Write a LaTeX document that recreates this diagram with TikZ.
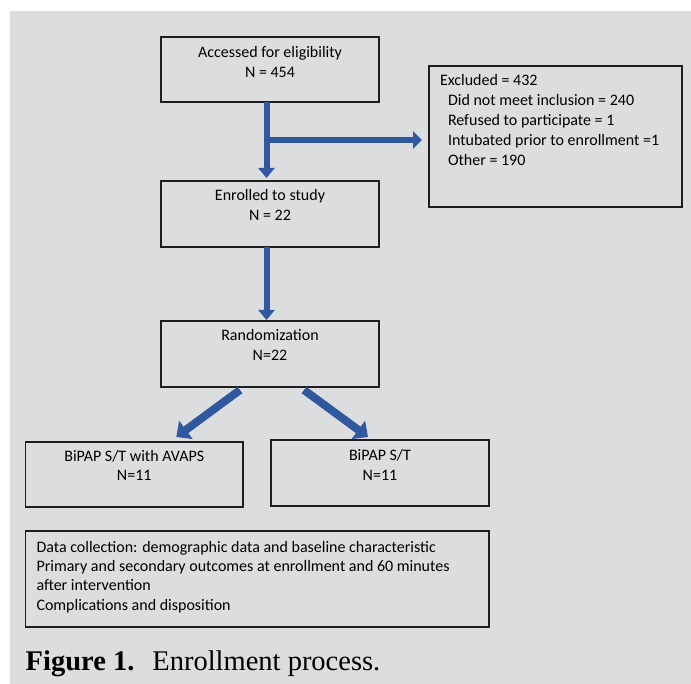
\documentclass[tikz,border=0pt]{standalone}
\usepackage{fontspec}
\setmainfont{Carlito}
\newfontfamily\capfont{Liberation Serif}
\usetikzlibrary{arrows.meta}
\definecolor{bg}{RGB}{220,221,223}
\definecolor{arrowblue}{RGB}{47,88,158}
\definecolor{boxline}{RGB}{30,30,30}
\newcommand{\ctext}[4]{\parbox[c][#2][t]{#1}{\centering\rule{0pt}{#3}#4\par}}
\newcommand{\ltext}[5]{\parbox[c][#2][t]{#1}{\raggedright\leftskip=#4\rule{0pt}{#3}#5\par}}
\tikzset{
  box/.style={draw=boxline, line width=1.5pt, inner sep=0pt, outer sep=0pt,
    font=\fontsize{16}{20}\selectfont},
  barrow/.style={draw=arrowblue, line width=6pt,
    -{Triangle[width=16pt,length=10pt]}},
  darrow/.style={draw=arrowblue, line width=8pt,
    -{Triangle[width=22pt,length=12pt]}},
}
\begin{document}
\begin{tikzpicture}[x=1pt,y=-1pt]
\useasboundingbox (0,0) rectangle (691,684);
\fill[bg] (10,11) rectangle (691,684);

\node[box] (acc) at (270,69.5) {\ctext{218pt}{65pt}{20.5pt}{Accessed for eligibility\\N = 454}};
\node[box] (exc) at (555.5,136.5) {\ltext{253pt}{141pt}{20pt}{11pt}{Excluded = 432\\
\hspace*{8pt}Did not meet inclusion = 240\\
\hspace*{8pt}Refused to participate = 1\\
\hspace*{8pt}Intubated prior to enrollment =1\\
\hspace*{8pt}Other = 190}};
\node[box] (enr) at (270,214) {\ctext{218pt}{66pt}{20pt}{Enrolled to study\\N = 22}};
\node[box] (rand) at (270,354) {\ctext{218pt}{66pt}{20pt}{Randomization\\N=22}};
\node[box] (avaps) at (134.25,474.5) {\ctext{217.5pt}{65pt}{19pt}{BiPAP S/T with AVAPS\\N=11}};
\node[box] (st) at (380,473) {\ctext{218pt}{66pt}{20pt}{BiPAP S/T\\N=11}};
\node[box] (data) at (257.25,579) {\fontsize{16}{19.4}\selectfont\ltext{463.5pt}{96pt}{21pt}{11pt}{Data collection: demographic data and baseline characteristic\\
Primary and secondary outcomes at enrollment and 60 minutes\\
after intervention\\
Complications and disposition}};

\node[anchor=base west, inner sep=0pt] (cap) at (25.5,670) {\capfont\fontsize{28.5}{30}\selectfont\textbf{Figure 1.}\hspace{18pt}Enrollment process.};

\draw[barrow] ([xshift=-3.5pt]acc.south) -- ([xshift=-3.5pt,yshift=3pt]enr.north);
\draw[barrow, line width=5.5pt, -{Triangle[width=17pt,length=9pt]}] ([yshift=-3.5pt]acc.south |- exc.west) -- ([xshift=-7pt,yshift=-3.5pt]exc.west);
\draw[barrow] ([xshift=-3.5pt]enr.south) -- ([xshift=-3.5pt,yshift=1pt]rand.north);
\draw[darrow] ([xshift=-30pt,yshift=-3pt]rand.south) -- ([xshift=42pt,yshift=5pt]avaps.north);
\draw[darrow] ([xshift=34pt,yshift=-3pt]rand.south) -- ([xshift=-12pt,yshift=3pt]st.north);
\end{tikzpicture}
\end{document}
